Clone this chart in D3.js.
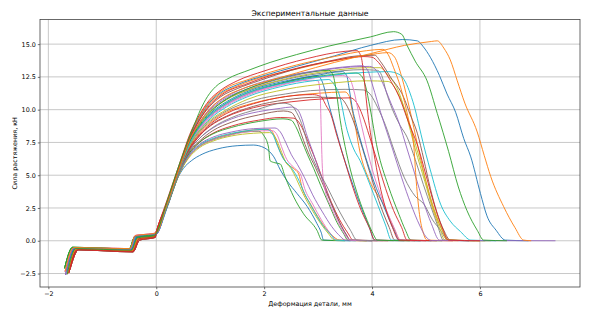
<!DOCTYPE html>
<html><head><meta charset="utf-8">
<script src="https://cdn.jsdelivr.net/npm/d3@7"></script>
<style>
body{margin:0;background:#fff}
svg{display:block}
text{font-family:"DejaVu Sans",sans-serif;fill:#000}
</style>
</head><body>
<svg id="chart" width="605" height="315"></svg>
<script>
// ---- data ----
const titleText = "Экспериментальные данные";
const xLabelText = "Деформация детали, мм";
const yLabelText = "Сила растяжения, кН";
const xTicks = [-2, 0, 2, 4, 6];
const yTicks = [-2.5, 0, 2.5, 5, 7.5, 10, 12.5, 15];
const xDataRange = [-1.70, 7.40];
const yDataRange = [-2.60, 15.95];

// pre-load stage, read per specimen group
const preloads = [
 [[-1.66,-2.3],[-1.50,-0.58],[-0.47,-0.70],[-0.36,0.25],[-0.05,0.40]],
 [[-1.64,-2.5],[-1.48,-0.62],[-0.45,-0.75],[-0.34,0.20],[-0.04,0.35]],
 [[-1.70,-2.1],[-1.55,-0.50],[-0.50,-0.62],[-0.40,0.30],[-0.06,0.45]],
 [[-1.62,-2.45],[-1.46,-0.66],[-0.44,-0.80],[-0.32,0.15],[-0.03,0.30]],
 [[-1.68,-2.6],[-1.52,-0.55],[-0.48,-0.66],[-0.38,0.35],[-0.05,0.50]],
 [[-1.60,-2.2],[-1.44,-0.70],[-0.43,-0.85],[-0.31,0.05],[-0.02,0.25]],
 [[-1.69,-2.35],[-1.53,-0.52],[-0.49,-0.60],[-0.39,0.40],[-0.06,0.55]],
 [[-1.65,-2.55],[-1.49,-0.60],[-0.46,-0.72],[-0.35,0.22],[-0.04,0.38]],
 [[-1.63,-2.0],[-1.47,-0.64],[-0.45,-0.78],[-0.33,0.12],[-0.03,0.32]],
 [[-1.67,-2.4],[-1.51,-0.56],[-0.47,-0.68],[-0.37,0.30],[-0.05,0.45]]
];

const c01=[[0,0.5],[0.2,2.5],[0.4,4.8],[0.5,5.5],[0.65,6.1],[0.85,6.6],[1.13,7.0],[1.5,7.25],[1.8,7.3],[2.0,7.1],[2.1,6.8],[2.18,6.4],[2.3,5.4],[2.42,4.6],[2.61,3.6],[2.8,2.6],[2.98,1.3],[3.06,0.6],[3.1,0.05],[3.6,0.0]];
const c02=[[0,0.7],[0.2,2.7],[0.45,5.3],[0.6,6.4],[0.8,7.2],[1.05,7.75],[1.4,8.15],[1.8,8.45],[2.1,8.5],[2.18,8.1],[2.24,7.4],[2.33,6.5],[2.42,5.9],[2.55,5.5],[2.64,5.1],[2.7,4.1],[2.86,2.8],[3.04,1.55],[3.23,0.54],[3.4,0.05],[3.9,0.0]];
const c03=[[0,0.6],[0.2,2.6],[0.45,5.3],[0.6,6.4],[0.8,7.2],[1.05,7.7],[1.35,8.05],[1.62,8.3],[1.9,8.35],[1.99,8.05],[2.08,7.15],[2.11,6.1],[2.2,5.95],[2.3,5.85],[2.39,4.86],[2.55,3.33],[2.73,2.06],[2.98,0.79],[3.07,0.05],[3.5,0.0]];
const c04=[[0,0.6],[0.2,2.6],[0.45,5.4],[0.6,6.6],[0.8,7.5],[1.05,8.2],[1.4,8.75],[1.9,9.2],[2.3,9.4],[2.55,9.35],[2.65,9.0],[2.75,8.2],[2.85,7.2],[2.97,6.0],[3.1,4.5],[3.25,2.9],[3.4,1.6],[3.55,0.6],[3.65,0.05],[4.3,0.0]];
const c05=[[0,0.6],[0.2,2.7],[0.45,5.5],[0.6,6.8],[0.8,7.8],[1.05,8.6],[1.4,9.3],[1.9,9.85],[2.3,10.1],[2.5,10.2],[2.62,10.0],[2.7,9.3],[2.78,8.2],[2.9,6.8],[3.05,5.0],[3.2,3.3],[3.35,1.8],[3.5,0.6],[3.6,0.05],[4.0,0.0]];
const c06=[[0,0.5],[0.2,2.6],[0.45,5.4],[0.6,6.7],[0.8,7.6],[1.05,8.4],[1.4,9.05],[1.9,9.6],[2.36,9.9],[2.5,9.8],[2.6,9.2],[2.7,8.0],[2.82,6.7],[2.95,5.6],[3.1,4.2],[3.25,2.8],[3.4,1.4],[3.52,0.5],[3.6,0.05],[4.1,0.0]];
const c07=[[0,0.6],[0.2,2.6],[0.45,5.3],[0.6,6.4],[0.8,7.2],[1.05,7.7],[1.4,8.1],[1.8,8.35],[2.15,8.4],[2.25,8.0],[2.32,7.2],[2.42,6.2],[2.55,5.6],[2.68,5.0],[2.75,4.0],[2.9,2.8],[3.06,1.6],[3.22,0.6],[3.36,0.05],[3.8,0.0]];
const c08=[[0,0.6],[0.2,2.7],[0.45,5.6],[0.62,7.2],[0.8,8.3],[1.0,9.1],[1.3,9.9],[1.8,10.7],[2.4,11.2],[2.86,11.45],[3.5,11.55],[3.85,11.5],[3.98,11.1],[4.1,10.2],[4.25,8.8],[4.4,7.0],[4.6,4.8],[4.8,3.4],[4.96,2.8],[5.12,1.6],[5.27,0.8],[5.4,0.05],[5.8,0.0]];
const c09=[[0,0.6],[0.2,2.6],[0.45,5.3],[0.6,6.3],[0.8,7.1],[1.05,7.6],[1.4,8.0],[1.8,8.2],[2.1,8.25],[2.22,7.8],[2.3,7.0],[2.4,6.0],[2.5,5.5],[2.6,4.7],[2.72,3.6],[2.88,2.4],[3.05,1.3],[3.2,0.5],[3.3,0.05],[3.9,0.0]];
const c10=[[0,0.5],[0.2,2.6],[0.45,5.4],[0.6,6.5],[0.8,7.3],[1.05,7.8],[1.4,8.2],[1.8,8.45],[2.05,8.5],[2.15,8.2],[2.25,7.2],[2.35,6.3],[2.5,5.6],[2.62,4.8],[2.75,3.6],[2.92,2.3],[3.1,1.1],[3.25,0.4],[3.32,0.05],[3.7,0.0]];
const c11=[[0,0.6],[0.2,2.8],[0.45,5.7],[0.62,7.4],[0.8,8.6],[1.0,9.5],[1.3,10.4],[1.7,11.2],[2.3,12.0],[2.8,12.5],[2.98,12.6],[3.08,12.1],[3.17,10.8],[3.28,9.2],[3.45,6.7],[3.66,4.1],[3.85,2.0],[3.95,1.0],[4.05,0.05],[4.6,0.0]];
const c12=[[0,0.7],[0.2,2.7],[0.45,5.6],[0.62,7.1],[0.8,8.2],[1.0,9.0],[1.3,9.8],[1.8,10.5],[2.4,11.0],[3.0,11.25],[3.5,11.35],[3.58,11.0],[3.62,10.2],[3.67,9.2],[3.78,6.7],[3.95,4.6],[4.21,2.8],[4.4,1.0],[4.53,0.05],[5.0,0.0]];
const c13=[[0,0.6],[0.2,2.6],[0.45,5.4],[0.6,6.6],[0.8,7.5],[1.05,8.15],[1.4,8.65],[1.9,9.1],[2.35,9.3],[2.5,9.2],[2.6,8.6],[2.7,7.6],[2.8,6.6],[2.92,5.5],[3.05,4.2],[3.2,2.8],[3.35,1.4],[3.48,0.5],[3.55,0.05],[4.0,0.0]];
const c14=[[0,0.7],[0.2,2.8],[0.45,5.6],[0.62,7.1],[0.8,8.1],[1.0,8.9],[1.3,9.7],[1.8,10.45],[2.4,11.0],[2.9,11.15],[3.05,11.0],[3.15,10.3],[3.23,9.7],[3.35,8.0],[3.5,6.0],[3.65,4.0],[3.8,2.3],[3.95,1.0],[4.05,0.05],[4.8,0.0]];
const c15=[[0,0.6],[0.2,2.6],[0.45,5.4],[0.6,6.5],[0.8,7.35],[1.05,7.9],[1.4,8.3],[1.8,8.55],[2.2,8.6],[2.3,8.3],[2.4,7.5],[2.5,6.6],[2.62,5.8],[2.75,4.8],[2.9,3.5],[3.08,2.2],[3.25,1.1],[3.42,0.3],[3.5,0.05],[4.0,0.0]];
const c16=[[0,0.6],[0.2,2.7],[0.45,5.6],[0.62,7.0],[0.8,8.0],[1.0,8.8],[1.3,9.5],[1.8,10.25],[2.4,10.75],[3.0,10.95],[3.4,10.9],[3.52,10.4],[3.62,9.5],[3.75,8.0],[3.9,6.0],[4.05,4.0],[4.2,2.2],[4.32,1.0],[4.42,0.05],[4.9,0.0]];
const c17=[[0,0.7],[0.2,2.9],[0.45,5.8],[0.62,7.4],[0.8,8.5],[1.0,9.4],[1.3,10.3],[1.7,11.1],[2.3,11.85],[2.85,12.25],[3.0,12.2],[3.04,11.0],[3.06,8.0],[3.08,5.5],[3.12,4.1],[3.25,2.5],[3.4,1.2],[3.6,0.05],[4.2,0.0]];
const c18=[[0,0.6],[0.2,2.8],[0.45,5.8],[0.62,7.6],[0.8,8.9],[1.0,9.9],[1.3,10.8],[1.7,11.5],[2.4,12.3],[3.2,12.85],[3.8,13.05],[4.1,13.0],[4.18,12.6],[4.26,11.4],[4.38,10.0],[4.52,8.8],[4.65,7.9],[4.8,6.2],[4.95,4.3],[5.1,2.5],[5.22,1.1],[5.32,0.05],[5.9,0.0]];
const c19=[[0,0.6],[0.2,2.8],[0.45,5.8],[0.62,7.6],[0.8,8.9],[1.0,9.85],[1.3,10.75],[1.7,11.5],[2.4,12.35],[3.2,12.95],[3.9,13.2],[4.15,13.2],[4.3,12.6],[4.47,11.6],[4.62,9.8],[4.8,7.0],[4.98,4.5],[5.12,2.5],[5.25,1.0],[5.35,0.05],[6.0,0.0]];
const c20=[[0,0.5],[0.2,2.7],[0.45,5.6],[0.62,7.3],[0.8,8.4],[1.0,9.3],[1.3,10.2],[1.7,11.0],[2.3,11.75],[2.9,12.2],[3.2,12.3],[3.3,11.9],[3.38,11.3],[3.54,8.4],[3.66,7.0],[3.78,6.1],[3.95,4.4],[4.1,2.8],[4.25,1.2],[4.36,0.05],[4.9,0.0]];
const c21=[[0,0.5],[0.2,2.8],[0.45,5.7],[0.62,7.5],[0.8,8.7],[1.0,9.7],[1.3,10.6],[1.7,11.4],[2.3,12.1],[2.9,12.55],[3.45,12.9],[3.53,12.6],[3.58,11.5],[3.64,10.0],[3.7,9.0],[3.82,7.2],[3.95,5.5],[4.08,4.0],[4.2,2.8],[4.32,1.6],[4.42,0.7],[4.5,0.05],[5.1,0.0]];
const c22=[[0,0.6],[0.2,2.9],[0.45,6.0],[0.62,7.8],[0.8,9.3],[0.98,10.4],[1.2,11.2],[1.5,11.8],[1.9,12.4],[2.5,13.0],[3.2,13.65],[3.9,14.15],[4.3,14.35],[4.42,14.0],[4.55,12.5],[4.7,10.0],[4.85,7.2],[5.0,4.5],[5.15,2.3],[5.3,0.8],[5.4,0.05],[6.0,0.0]];
const c23=[[0,0.6],[0.2,2.8],[0.45,5.8],[0.62,7.5],[0.8,8.7],[1.0,9.6],[1.3,10.5],[1.7,11.3],[2.4,12.1],[3.1,12.6],[3.7,12.8],[3.8,12.6],[3.88,11.8],[3.96,10.2],[4.1,7.0],[4.3,4.2],[4.5,2.0],[4.62,0.8],[4.72,0.05],[5.3,0.0]];
const c24=[[0,0.6],[0.2,2.7],[0.45,5.6],[0.62,7.0],[0.8,8.0],[1.0,8.75],[1.3,9.45],[1.8,10.15],[2.5,10.6],[3.2,10.85],[3.6,10.9],[3.72,10.5],[3.82,9.6],[3.95,8.0],[4.1,6.0],[4.25,4.0],[4.4,2.3],[4.55,1.0],[4.65,0.05],[5.5,0.0]];
const c25=[[0,0.6],[0.2,2.8],[0.45,5.8],[0.62,7.7],[0.8,9.0],[1.0,10.0],[1.3,10.9],[1.7,11.6],[2.4,12.45],[3.0,12.95],[3.6,13.25],[3.95,13.3],[4.08,13.0],[4.2,12.0],[4.35,10.5],[4.5,9.0],[4.65,7.0],[4.8,5.0],[4.95,3.0],[5.1,1.3],[5.25,0.05],[5.8,0.0]];
const c26=[[0,0.6],[0.2,2.9],[0.45,5.9],[0.62,7.8],[0.8,9.2],[0.98,10.2],[1.2,11.0],[1.5,11.6],[1.9,12.2],[2.5,13.0],[3.2,13.7],[3.72,14.1],[4.05,14.15],[4.16,13.65],[4.34,12.5],[4.58,11.0],[4.71,9.6],[4.84,8.2],[4.96,6.2],[5.08,4.0],[5.2,2.2],[5.33,0.8],[5.45,0.05],[6.1,0.0]];
const c27=[[0,0.6],[0.2,2.8],[0.45,5.7],[0.62,7.4],[0.8,8.6],[1.0,9.5],[1.3,10.4],[1.7,11.2],[2.3,11.9],[2.9,12.4],[3.45,12.6],[3.58,12.4],[3.66,11.5],[3.75,9.8],[3.85,8.0],[4.0,5.5],[4.15,3.6],[4.3,2.0],[4.42,0.9],[4.52,0.05],[5.0,0.0]];
const c28=[[0,0.6],[0.2,2.7],[0.45,5.5],[0.6,6.8],[0.8,7.8],[1.05,8.65],[1.4,9.4],[1.9,10.05],[2.35,10.5],[2.5,10.35],[2.6,9.8],[2.67,9.2],[2.86,6.7],[3.0,5.4],[3.17,4.1],[3.35,2.6],[3.6,0.8],[3.72,0.05],[4.4,0.0]];
const c29=[[0,0.6],[0.2,2.7],[0.45,5.7],[0.62,7.3],[0.8,8.4],[1.0,9.2],[1.3,10.0],[1.7,10.8],[2.4,11.55],[3.2,12.0],[3.9,12.2],[4.3,12.15],[4.42,11.7],[4.55,10.6],[4.7,8.8],[4.85,6.7],[5.0,4.5],[5.12,2.8],[5.25,1.3],[5.35,0.4],[5.42,0.05],[6.2,0.0]];
const c30=[[0,0.5],[0.2,2.7],[0.45,5.7],[0.62,7.4],[0.8,8.7],[1.0,9.6],[1.3,10.5],[1.7,11.3],[2.4,12.05],[3.2,12.6],[3.9,12.85],[4.3,12.9],[4.5,12.7],[4.62,12.1],[4.71,11.2],[4.8,10.0],[4.88,8.6],[5.0,6.6],[5.08,5.4],[5.27,2.8],[5.45,1.5],[5.64,0.7],[5.83,0.05],[6.3,0.0]];
const c31=[[0,0.5],[0.2,2.9],[0.45,5.9],[0.62,7.9],[0.8,9.4],[0.98,10.5],[1.2,11.3],[1.5,11.9],[2.0,12.6],[2.6,13.3],[3.3,14.1],[3.97,14.9],[4.56,15.35],[4.84,15.25],[4.95,14.8],[5.08,14.0],[5.25,12.6],[5.39,11.2],[5.55,9.8],[5.7,7.8],[5.83,6.4],[6.01,3.6],[6.13,1.9],[6.3,0.8],[6.47,0.05],[6.9,0.0]];
const c32=[[0,0.7],[0.2,3.0],[0.45,6.0],[0.62,8.0],[0.8,9.5],[0.98,10.6],[1.2,11.4],[1.74,12.35],[2.5,13.3],[3.3,14.05],[3.9,14.5],[4.2,14.6],[4.3,14.2],[4.4,13.2],[4.53,11.7],[4.68,9.2],[4.77,7.4],[4.82,4.5],[4.88,2.0],[4.95,0.6],[5.02,0.05],[5.6,0.0]];
const c33=[[0,0.6],[0.2,2.8],[0.45,5.8],[0.62,7.6],[0.8,8.8],[1.0,9.8],[1.3,10.8],[1.7,11.6],[2.3,12.4],[2.9,12.9],[3.2,13.0],[3.28,12.6],[3.34,11.3],[3.41,9.2],[3.5,7.2],[3.6,5.4],[3.75,3.3],[3.91,1.55],[4.0,0.7],[4.1,0.05],[4.7,0.0]];
const c34=[[0,0.7],[0.2,3.1],[0.45,6.1],[0.62,8.1],[0.8,9.6],[0.98,10.7],[1.2,11.5],[1.5,12.2],[2.0,12.95],[2.8,13.9],[3.5,14.45],[3.72,14.5],[3.8,14.0],[3.85,12.5],[3.9,10.5],[3.95,8.8],[4.03,6.8],[4.13,4.5],[4.25,2.5],[4.38,1.0],[4.5,0.05],[5.2,0.0]];
const c35=[[0,0.5],[0.2,2.8],[0.45,5.8],[0.62,7.7],[0.8,9.0],[1.0,10.1],[1.3,11.0],[1.7,11.75],[2.4,12.55],[3.0,13.0],[3.6,13.3],[3.82,13.35],[3.92,13.0],[4.0,12.0],[4.1,10.6],[4.22,9.0],[4.38,7.0],[4.55,4.8],[4.72,2.8],[4.88,1.2],[5.0,0.3],[5.1,0.02],[7.40,0.0]];
const c36=[[0,0.6],[0.2,2.9],[0.45,5.9],[0.62,7.8],[0.8,9.2],[0.98,10.3],[1.2,11.1],[1.7,12.0],[2.5,13.05],[3.3,13.75],[3.85,14.05],[4.0,14.0],[4.12,13.6],[4.3,12.5],[4.5,11.0],[4.68,9.0],[4.85,7.2],[5.0,5.0],[5.15,2.8],[5.3,1.0],[5.42,0.05],[6.0,0.0]];
const c37=[[0,0.6],[0.2,2.8],[0.45,5.8],[0.62,7.7],[0.8,9.0],[0.98,10.0],[1.2,10.8],[1.6,11.6],[2.0,12.1],[2.6,12.8],[3.3,13.6],[4.0,14.3],[4.6,14.9],[5.1,15.2],[5.21,15.25],[5.33,14.7],[5.45,13.8],[5.58,12.2],[5.72,10.5],[5.95,8.3],[6.08,6.5],[6.2,4.9],[6.44,2.6],[6.65,1.0],[6.81,0.05],[6.95,0.0]];
const c38=[[0,0.6],[0.2,3.0],[0.45,6.1],[0.69,8.7],[0.82,10.0],[0.95,11.0],[1.1,11.75],[1.3,12.3],[1.74,13.05],[2.11,13.6],[2.6,14.2],[3.2,14.85],[3.97,15.55],[4.4,15.95],[4.55,15.75],[4.65,14.9],[4.8,13.7],[5.02,12.2],[5.21,9.7],[5.42,6.8],[5.6,4.1],[5.76,2.3],[5.95,0.8],[6.07,0.05],[6.5,0.0]];

const curveBodies = [c01,c02,c03,c04,c05,c06,c07,c08,c09,c10,c11,c12,c13,c14,c15,c16,c17,c18,c19,c20,
  c21,c22,c23,c24,c25,c26,c27,c28,c29,c30,c31,c32,c33,c34,c35,c36,c37,c38];
const curveColors = ["#1f77b4","#ff7f0e","#2ca02c","#d62728","#9467bd","#8c564b","#e377c2","#7f7f7f","#bcbd22","#17becf",
  "#1f77b4","#ff7f0e","#2ca02c","#d62728","#9467bd","#8c564b","#e377c2","#7f7f7f","#bcbd22","#17becf",
  "#1f77b4","#ff7f0e","#2ca02c","#d62728","#9467bd","#8c564b","#e377c2","#7f7f7f","#bcbd22","#17becf",
  "#1f77b4","#ff7f0e","#2ca02c","#d62728","#9467bd","#d62728","#ff7f0e","#2ca02c"];

// ---- layout ----
const W = 605, H = 315;
const m = {left: 40, right: 25, top: 19.5, bottom: 28};
const pw = W - m.left - m.right, ph = H - m.top - m.bottom;
const pad = 0.05;
const xs = xDataRange[1]-xDataRange[0], ys = yDataRange[1]-yDataRange[0];
const x = d3.scaleLinear().domain([xDataRange[0]-pad*xs, xDataRange[1]+pad*xs]).range([0, pw]);
const y = d3.scaleLinear().domain([yDataRange[0]-pad*ys, yDataRange[1]+pad*ys]).range([ph, 0]);

const svg = d3.select("#chart");
svg.append("rect").attr("width", W).attr("height", H).attr("fill", "#fff");
const g = svg.append("g").attr("transform", `translate(${m.left},${m.top})`);

// grid
g.append("g").selectAll("line").data(xTicks).join("line")
  .attr("x1", d => x(d)).attr("x2", d => x(d)).attr("y1", 0).attr("y2", ph)
  .attr("stroke", "#b0b0b0").attr("stroke-width", 0.7);
g.append("g").selectAll("line").data(yTicks).join("line")
  .attr("y1", d => y(d)).attr("y2", d => y(d)).attr("x1", 0).attr("x2", pw)
  .attr("stroke", "#b0b0b0").attr("stroke-width", 0.7);

// curves
const line = d3.line().x(d => x(d[0])).y(d => y(d[1])).curve(d3.curveMonotoneX);
svg.append("defs").append("clipPath").attr("id", "clip")
  .append("rect").attr("width", pw).attr("height", ph);
const cg = g.append("g").attr("clip-path", "url(#clip)");
curveBodies.forEach((body, i) => {
  const pts = preloads[i % preloads.length].concat(body);
  cg.append("path").attr("d", line(pts)).attr("fill", "none")
    .attr("stroke", curveColors[i]).attr("stroke-width", 0.9).attr("stroke-linejoin", "round");
});

// axes
const fmtY = d => d3.format(".1f")(d).replace("-", "\u2212");
const fmtX = d => String(d).replace("-", "\u2212");
const xAxis = d3.axisBottom(x).tickValues(xTicks).tickFormat(fmtX).tickSize(2.2).tickPadding(2);
const yAxis = d3.axisLeft(y).tickValues(yTicks).tickFormat(fmtY).tickSize(2.2).tickPadding(2);
const xa = g.append("g").attr("transform", `translate(0,${ph})`).call(xAxis);
const ya = g.append("g").call(yAxis);
[xa, ya].forEach(a => {
  a.select(".domain").remove();
  a.selectAll("line").attr("stroke", "#333").attr("stroke-width", 0.7);
  a.selectAll("text").attr("font-size", 6.4).attr("fill", "#222")
   .attr("font-family", "DejaVu Sans, sans-serif");
});

// frame
g.append("rect").attr("width", pw).attr("height", ph).attr("fill", "none")
  .attr("stroke", "#444").attr("stroke-width", 0.8);

// texts
svg.append("text").attr("x", m.left + pw/2).attr("y", 16).attr("text-anchor", "middle")
  .attr("font-size", 7.7).text(titleText);
svg.append("text").attr("x", m.left + pw/2).attr("y", 306).attr("text-anchor", "middle")
  .attr("font-size", 6.4).text(xLabelText);
svg.append("text").attr("transform", `translate(16.5,${m.top + ph/2}) rotate(-90)`)
  .attr("text-anchor", "middle").attr("font-size", 6.4).text(yLabelText);
</script>
</body></html>
